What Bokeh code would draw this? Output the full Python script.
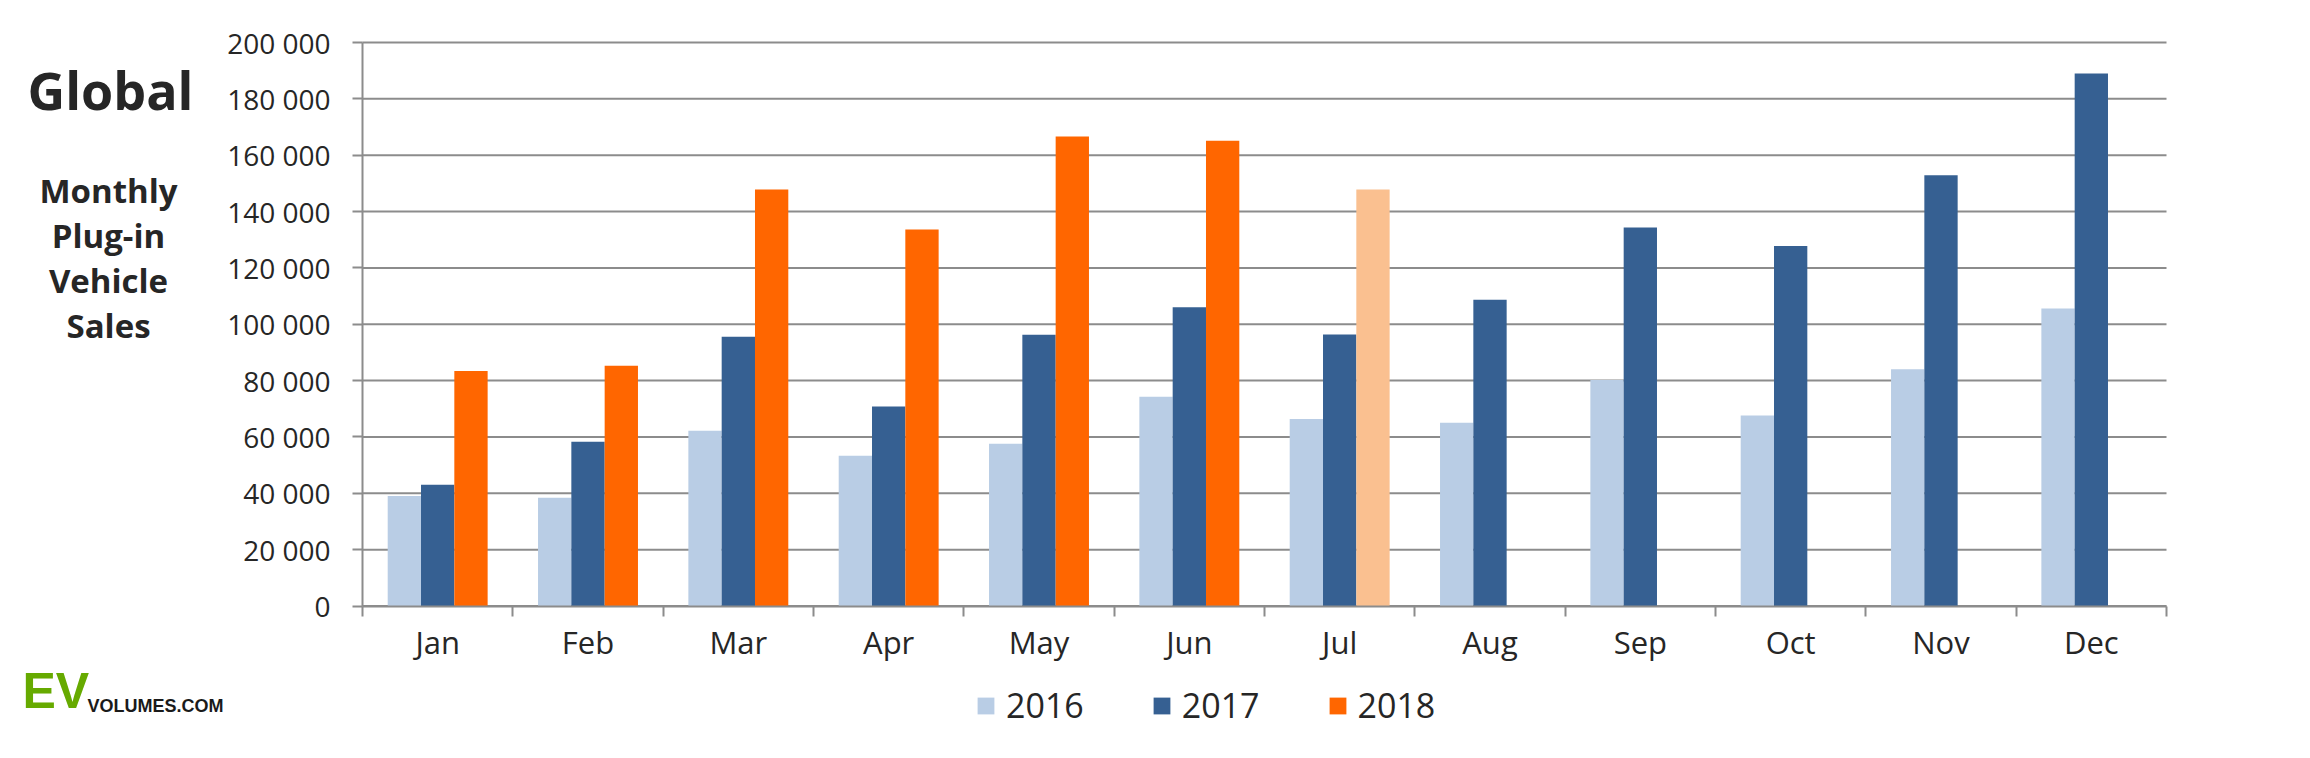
import numpy as np
from bokeh.plotting import figure
from bokeh.models import (ColumnDataSource, Range1d, FixedTicker, LinearAxis,
                          Legend, LegendItem, Label)
from bokeh.transform import dodge
from bokeh.embed import file_html
from bokeh.resources import INLINE

# ---------------- data ----------------
months = ["Jan", "Feb", "Mar", "Apr", "May", "Jun",
          "Jul", "Aug", "Sep", "Oct", "Nov", "Dec"]
sales_2016 = [39000, 38400, 62200, 53300, 57600, 74300,
              66400, 65000, 80200, 67600, 84000, 105600]
sales_2017 = [43000, 58300, 95600, 70800, 96300, 106000,
              96400, 108700, 134300, 127800, 152900, 189000]
sales_2018 = [83400, 85300, 147800, 133600, 166600, 165100, 147800]
partial_month_2018 = "Jul"   # preliminary month (lighter bar)
series_names = ["2016", "2017", "2018"]
y_ticks = [0, 20000, 40000, 60000, 80000, 100000,
           120000, 140000, 160000, 180000, 200000]
y_tick_labels = ["0", "20 000", "40 000", "60 000", "80 000", "100 000",
                 "120 000", "140 000", "160 000", "180 000", "200 000"]

# ---------------- styles / layout ----------------
C16 = "#b9cde5"
C17 = "#366092"
C18 = "#ff6600"
C18_LIGHT = "#fac090"
GRID = "#8c8c8c"
TEXT = "#262626"
FONT = "Open Sans"
BAR_W = 0.2216

W, H = 2310, 758
PLOT_L, PLOT_R = 362, 2166      # pixel columns of the value area
PLOT_T, PLOT_B = 42, 605.5      # pixel rows of 200 000 and 0
n = len(months)
ymax = y_ticks[-1]
px_x = (PLOT_R - PLOT_L) / n
px_y = (PLOT_B - PLOT_T) / ymax
x_range = Range1d(-PLOT_L / px_x, (W - PLOT_L) / px_x)
y_range = Range1d(-(H - PLOT_B) / px_y, PLOT_B / px_y)

x_center = np.arange(n) + 0.5
src16 = ColumnDataSource(dict(x=x_center, v=sales_2016))
src17 = ColumnDataSource(dict(x=x_center, v=sales_2017))
n18 = len(sales_2018)
col18 = [C18_LIGHT if months[i] == partial_month_2018 else C18 for i in range(n18)]
src18 = ColumnDataSource(dict(x=x_center[:n18], v=sales_2018, c=col18))

p = figure(width=W, height=H, output_backend="svg", toolbar_location=None,
           x_range=x_range, y_range=y_range,
           x_axis_type=None, y_axis_type=None, min_border=0)
p.outline_line_color = None
p.background_fill_color = "white"
p.border_fill_color = "white"

# horizontal grid lines (behind bars)
p.segment(x0=0, x1=n, y0="y", y1="y", source=ColumnDataSource(dict(y=y_ticks)),
          line_color=GRID, line_width=2, level="underlay")

r16 = p.vbar(x=dodge("x", -BAR_W, range=p.x_range), top="v", width=BAR_W,
             source=src16, fill_color=C16, line_color=None)
r17 = p.vbar(x="x", top="v", width=BAR_W, source=src17,
             fill_color=C17, line_color=None)
r18 = p.vbar(x=dodge("x", BAR_W, range=p.x_range), top="v", width=BAR_W,
             source=src18, fill_color="c", line_color=None)

# y axis
yax = LinearAxis(fixed_location=0, bounds=(0, ymax),
                 ticker=FixedTicker(ticks=y_ticks),
                 major_label_overrides={t: l for t, l in zip(y_ticks, y_tick_labels)})
yax.axis_line_color = GRID
yax.axis_line_width = 2
yax.major_tick_line_color = GRID
yax.major_tick_line_width = 2
yax.major_tick_out = 10
yax.major_tick_in = 0
yax.minor_tick_line_color = None
yax.major_label_standoff = 22
yax.major_label_text_font = FONT
yax.major_label_text_font_size = "28px"
yax.major_label_text_color = TEXT
p.add_layout(yax, "left")

# x axis: labels at centers, tick marks at category boundaries
xax = LinearAxis(fixed_location=0, bounds=(0, n),
                 ticker=FixedTicker(ticks=list(x_center),
                                    minor_ticks=list(range(n + 1))),
                 major_label_overrides={float(c): m for c, m in zip(x_center, months)})
xax.axis_line_color = GRID
xax.axis_line_width = 2
xax.major_tick_line_color = None
xax.major_tick_out = 0
xax.major_tick_in = 0
xax.minor_tick_line_color = GRID
xax.minor_tick_line_width = 2
xax.minor_tick_out = 10
xax.minor_tick_in = 0
xax.major_label_standoff = 5
xax.major_label_text_font = FONT
xax.major_label_text_font_size = "31px"
xax.major_label_text_color = TEXT
p.add_layout(xax, "below")

# legend
legend = Legend(items=[LegendItem(label=series_names[0], renderers=[r16]),
                       LegendItem(label=series_names[1], renderers=[r17]),
                       LegendItem(label=series_names[2], renderers=[r18])],
                orientation="horizontal", location=(975, 30),
                glyph_width=21, glyph_height=21, label_standoff=10, spacing=67,
                padding=0, margin=0, border_line_color=None,
                background_fill_alpha=0,
                label_text_font=FONT, label_text_font_size="34px",
                label_text_color=TEXT)
p.add_layout(legend, "center")

# left-side titles (screen units, y measured from the bottom; vertical centres)
p.add_layout(Label(x=110, y=H - 89, x_units="screen", y_units="screen",
                   text="Global", text_align="center", text_baseline="middle",
                   text_font=FONT, text_font_style="bold",
                   text_font_size="52px", text_color=TEXT))
for i, line in enumerate(["Monthly", "Plug-in", "Vehicle", "Sales"]):
    p.add_layout(Label(x=108, y=H - (190 + 45 * i), x_units="screen", y_units="screen",
                       text=line, text_align="center", text_baseline="middle",
                       text_font=FONT, text_font_style="bold",
                       text_font_size="33px", text_color=TEXT))

# logo
p.add_layout(Label(x=22, y=H - 690, x_units="screen", y_units="screen",
                   text="EV", text_baseline="middle",
                   text_font="Liberation Sans",
                   text_font_style="bold", text_font_size="50px",
                   text_color="#66aa00"))
p.add_layout(Label(x=87, y=H - 705, x_units="screen", y_units="screen",
                   text="VOLUMES.COM", text_baseline="middle",
                   text_font="Liberation Sans",
                   text_font_style="bold", text_font_size="18px",
                   text_color="#1a1a1a"))

open("out.html", "w").write(file_html(p, INLINE))
